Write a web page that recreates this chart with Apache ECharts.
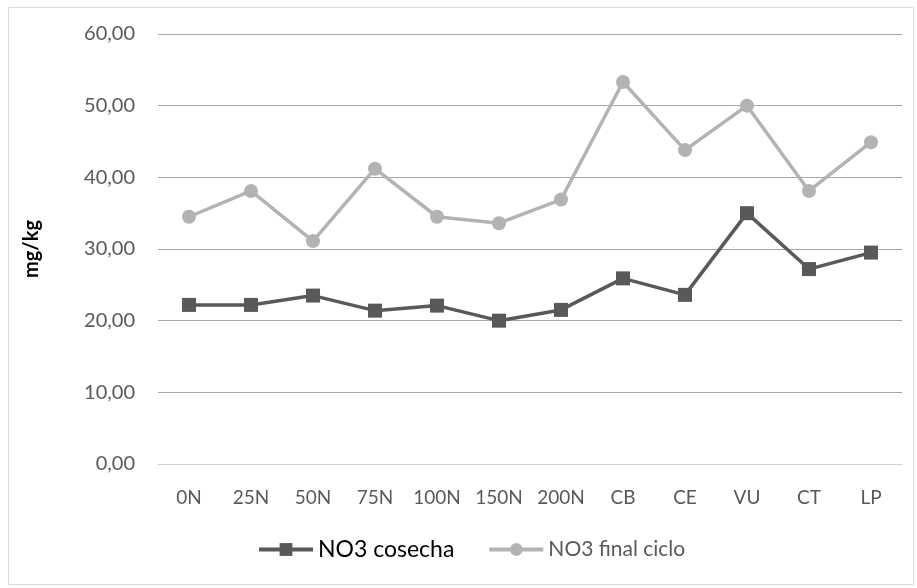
<!DOCTYPE html>
<html>
<head>
<meta charset="utf-8">
<script src="https://cdn.jsdelivr.net/npm/echarts@6/dist/echarts.min.js"></script>
<style>html,body{margin:0;padding:0;background:#fff}#c{width:917px;height:588px}</style>
</head>
<body>
<div id="c"></div>
<script>
var categories = ['0N','25N','50N','75N','100N','150N','200N','CB','CE','VU','CT','LP'];
var cosecha = [22.2, 22.2, 23.5, 21.4, 22.1, 20.0, 21.5, 25.9, 23.6, 35.0, 27.2, 29.5];
var finalCiclo = [34.5, 38.1, 31.1, 41.2, 34.5, 33.6, 36.9, 53.3, 43.8, 50.0, 38.1, 44.9];
var yTicks = {min: 0, max: 60, interval: 10};

var FONT = 'Lato';
var chart = echarts.init(document.getElementById('c'), null, {renderer: 'canvas'});
chart.setOption({
  animation: false,
  backgroundColor: '#fff',
  graphic: [{
    type: 'rect', left: 6, top: 5, shape: {x: 0, y: 0, width: 905, height: 577},
    style: {fill: 'none', stroke: '#d9d9d9', lineWidth: 1}, silent: true
  }],
  grid: {left: 158, right: 15, top: 34, bottom: 124},
  legend: {
    bottom: 22, left: 252, itemWidth: 54, itemHeight: 16, itemGap: 33,
    lineStyle: {width: 4},
    textStyle: {fontFamily: FONT, fontSize: 23},
    data: [
      {name: 'NO3 cosecha', textStyle: {color: '#000', fontSize: 23, fontFamily: FONT}},
      {name: 'NO3 final ciclo', textStyle: {color: '#595959', fontSize: 21, fontFamily: FONT}}
    ]
  },
  xAxis: {
    type: 'category', data: categories, boundaryGap: true,
    axisLine: {lineStyle: {color: '#d0d0d0', width: 1}},
    axisTick: {show: false},
    axisLabel: {color: '#595959', fontSize: 19, margin: 24, fontFamily: FONT}
  },
  yAxis: {
    type: 'value', min: yTicks.min, max: yTicks.max, interval: yTicks.interval,
    name: 'mg/kg', nameLocation: 'middle', nameGap: 116, nameRotate: 90,
    nameTextStyle: {fontWeight: 'bold', fontSize: 20, color: '#000', fontFamily: FONT},
    axisLine: {show: false}, axisTick: {show: false},
    splitLine: {lineStyle: {color: '#a6a6a6', width: 1}},
    axisLabel: {color: '#595959', fontSize: 20, margin: 23, fontFamily: FONT,
      formatter: function (v) { return v.toFixed(2).replace('.', ','); }}
  },
  series: [
    {
      name: 'NO3 cosecha', type: 'line', data: cosecha,
      symbol: 'rect', symbolSize: 14,
      lineStyle: {color: '#595959', width: 3.5},
      itemStyle: {color: '#595959'}
    },
    {
      name: 'NO3 final ciclo', type: 'line', data: finalCiclo,
      symbol: 'circle', symbolSize: 14,
      lineStyle: {color: '#b3b3b3', width: 3.5},
      itemStyle: {color: '#b3b3b3'}
    }
  ]
});
</script>
</body>
</html>
